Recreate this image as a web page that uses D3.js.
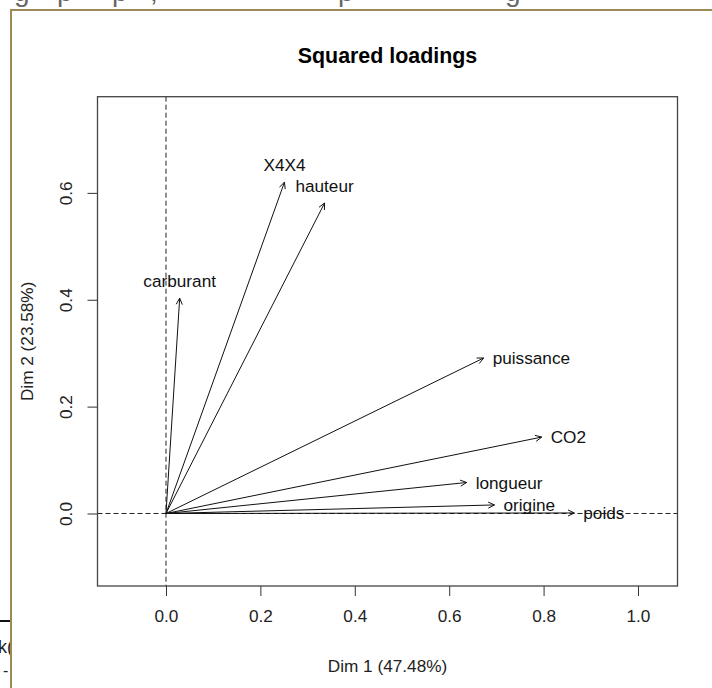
<!DOCTYPE html>
<html>
<head>
<meta charset="utf-8">
<script src="https://cdn.jsdelivr.net/npm/d3@7/dist/d3.min.js"></script>
<style>
  body { margin: 0; background: #fff; }
  svg text { font-family: "Liberation Sans", Arial, sans-serif; }
</style>
</head>
<body>
<svg id="chart" width="712" height="688"></svg>
<script>
// squared loadings
var variables = ["carburant", "X4X4", "hauteur", "puissance", "CO2", "longueur", "origine", "poids"];
var dim1 = [0.029, 0.251, 0.336, 0.673, 0.796, 0.637, 0.696, 0.865];
var dim2 = [0.403, 0.620, 0.581, 0.291, 0.143, 0.058, 0.016, 0.001];
var xTicks = [0, 0.2, 0.4, 0.6, 0.8, 1.0];
var yTicks = [0, 0.2, 0.4, 0.6];
var titleText = "Squared loadings";
var xLabel = "Dim 1 (47.48%)";
var yLabel = "Dim 2 (23.58%)";

var svg = d3.select("#chart");
var W = 712, H = 688;
var box = {left: 97.5, right: 677.5, top: 96.7, bottom: 586};
var fs = 17.2;

// page frame around the plot (screenshot leftovers)
var frame = svg.append("g").attr("class", "frame");
var topGlyphs = [["g", 14], ["p", 57], ["p", 112], [",", 150], ["p", 338], ["g", 505]];
frame.selectAll("text.cut").data(topGlyphs).enter().append("text")
    .attr("class", "cut")
    .attr("x", function(d){ return d[1]; }).attr("y", 1)
    .attr("font-size", 28).attr("fill", "#666")
    .text(function(d){ return d[0]; });
frame.append("rect").attr("x", 0).attr("y", 9).attr("width", W).attr("height", H).attr("fill", "#fff");
frame.append("line").attr("x1", 0).attr("x2", 10).attr("y1", 621).attr("y2", 621)
    .attr("stroke", "#111").attr("stroke-width", 2);
frame.append("text").attr("x", -2).attr("y", 653).attr("font-size", 18).attr("fill", "#222").text("k(");
frame.append("text").attr("x", 3).attr("y", 676).attr("font-size", 16).attr("fill", "#222").text("-");
frame.append("rect").attr("x", 11).attr("y", 11).attr("width", W).attr("height", H).attr("fill", "#fff");
frame.append("line").attr("x1", 11).attr("x2", W).attr("y1", 10).attr("y2", 10)
    .attr("stroke", "#9b8a55").attr("stroke-width", 2);
frame.append("line").attr("x1", 11).attr("x2", 11).attr("y1", 9).attr("y2", H)
    .attr("stroke", "#9b8a55").attr("stroke-width", 2);

// scales
var x = d3.scaleLinear().domain([-0.1451, 1.0837]).range([box.left, box.right]);
var y = d3.scaleLinear().domain([-0.1357, 0.780]).range([box.bottom, box.top]);

var plot = svg.append("g").attr("class", "plot");

// title
plot.append("text").attr("x", (box.left + box.right) / 2).attr("y", 63)
    .attr("text-anchor", "middle").attr("font-size", 21.4).attr("font-weight", "bold")
    .attr("fill", "#000").text(titleText);

// axes
var xAxis = d3.axisBottom(x).tickValues(xTicks).tickFormat(d3.format(".1f")).tickSize(10).tickPadding(14);
var gx = plot.append("g").attr("transform", "translate(0," + box.bottom + ")").call(xAxis);
gx.select(".domain").remove();
gx.selectAll("line").attr("stroke", "#333");
gx.selectAll("text").attr("font-size", fs).attr("fill", "#222").attr("font-family", "Liberation Sans, Arial, sans-serif");

var yAxis = d3.axisLeft(y).tickValues(yTicks).tickFormat(d3.format(".1f")).tickSize(10);
var gy = plot.append("g").attr("transform", "translate(" + box.left + ",0)").call(yAxis);
gy.select(".domain").remove();
gy.selectAll("line").attr("stroke", "#333");
gy.selectAll("text").attr("font-size", fs).attr("fill", "#222").attr("font-family", "Liberation Sans, Arial, sans-serif")
    .attr("text-anchor", "middle").attr("dy", null).attr("x", null)
    .attr("transform", "translate(-32,0) rotate(-90)").attr("dominant-baseline", "central");

// axis titles
plot.append("text").attr("x", (box.left + box.right) / 2).attr("y", 672)
    .attr("text-anchor", "middle").attr("font-size", fs).attr("fill", "#222").text(xLabel);
plot.append("text")
    .attr("transform", "translate(33," + (box.top + box.bottom) / 2 + ") rotate(-90)")
    .attr("text-anchor", "middle").attr("font-size", fs).attr("fill", "#222").text(yLabel);

// reference lines at 0
plot.append("line").attr("x1", x(0)).attr("x2", x(0)).attr("y1", box.top).attr("y2", box.bottom)
    .attr("stroke", "#222").attr("stroke-dasharray", "5,3");
plot.append("line").attr("x1", box.left).attr("x2", box.right).attr("y1", y(0)).attr("y2", y(0))
    .attr("stroke", "#222").attr("stroke-dasharray", "5,3");

// box
plot.append("rect").attr("x", box.left).attr("y", box.top)
    .attr("width", box.right - box.left).attr("height", box.bottom - box.top)
    .attr("fill", "none").attr("stroke", "#444").attr("stroke-width", 1.3);

// arrows
var data = variables.map(function(v, i){ return {name: v, d1: dim1[i], d2: dim2[i]}; });
var gArrows = plot.append("g").attr("class", "arrows");
var headLen = 7, headAng = Math.PI / 7;
gArrows.selectAll("path").data(data).enter().append("path")
    .attr("d", function(d){
        var x0 = x(0), y0 = y(0), x1 = x(d.d1), y1 = y(d.d2);
        var a = Math.atan2(y1 - y0, x1 - x0);
        var s = "M" + x0 + "," + y0 + "L" + x1 + "," + y1;
        s += "M" + (x1 - headLen * Math.cos(a - headAng)) + "," + (y1 - headLen * Math.sin(a - headAng));
        s += "L" + x1 + "," + y1;
        s += "L" + (x1 - headLen * Math.cos(a + headAng)) + "," + (y1 - headLen * Math.sin(a + headAng));
        return s;
    })
    .attr("fill", "none").attr("stroke", "#111").attr("stroke-width", 1);

// labels: above the tip for steep arrows, to the right otherwise
gArrows.selectAll("text").data(data).enter().append("text")
    .attr("x", function(d){ return d.d2 > d.d1 ? x(d.d1) : x(d.d1) + 9; })
    .attr("y", function(d){ return d.d2 > d.d1 ? y(d.d2) - 11 : y(d.d2); })
    .attr("dy", function(d){ return d.d2 > d.d1 ? 0 : "0.35em"; })
    .attr("text-anchor", function(d){ return d.d2 > d.d1 ? "middle" : "start"; })
    .attr("font-size", fs).attr("fill", "#111")
    .text(function(d){ return d.name; });
</script>
</body>
</html>
